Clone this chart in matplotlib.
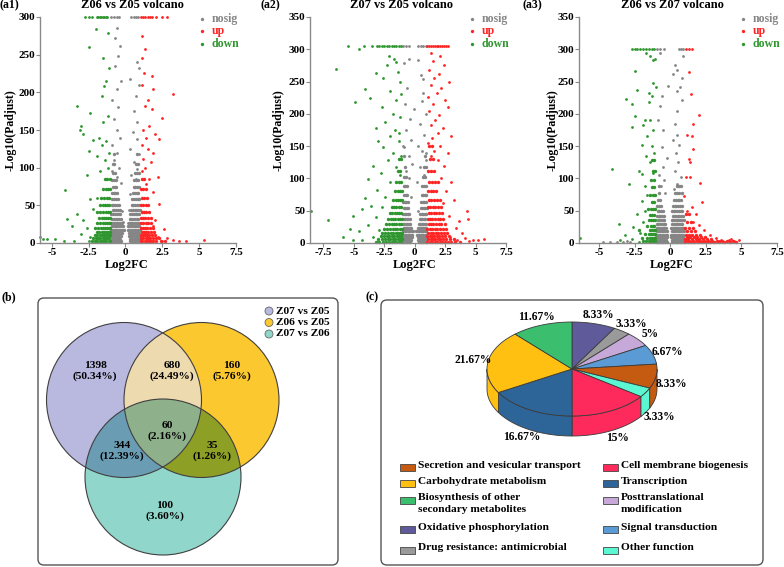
import numpy as np
import matplotlib
matplotlib.use('Agg')
import matplotlib.pyplot as plt
from matplotlib.colors import to_rgba
from matplotlib.patches import FancyBboxPatch, Circle, Polygon, Rectangle

plt.rcParams['font.family'] = ['Liberation Serif', 'DejaVu Serif']
plt.rcParams['font.weight'] = 'bold'

W, H = 784, 567

# ---------------- volcano data (log2FC, -log10 Padjust)
# scattered points as (x, y); dense clouds near the bottom as (y, [x, ...]) rows
a1_nosig = [(-0.95, 300), (-0.8, 300), (-0.6, 300), (-0.45, 300), (0.4, 300), (0.55, 300), (0.7, 300), (0.85, 300),
            (-0.6, 285), (-0.7, 272), (-0.4, 262), (-0.5, 248), (-0.7, 235), (0.8, 240), (0.9, 232), (-0.3, 215),
            (0.3, 218), (-0.6, 205), (0.9, 210), (0.7, 195), (-0.9, 190), (-0.5, 180), (0.6, 175), (-0.8, 165),
            (0.8, 160), (-0.6, 150), (0.5, 148), (-0.4, 140), (0.75, 138), (-0.9, 130), (0.3, 125), (-0.6, 120),
            (0.9, 118), (-0.75, 110), (0.55, 108), (-0.45, 100), (0.8, 98), (-0.9, 95), (0.4, 90), (-0.6, 88),
            (0.7, 85), (-0.3, 80), (0.3, 65), (-0.25, 42), (0.25, 44), (-0.15, 28), (0.15, 26)]
a1_nosig_core = [(2, [-0.97, -0.86, -0.74, -0.62, -0.5, -0.4, -0.31, 0.33, 0.44, 0.55, 0.66, 0.78, 0.9]),
                 (5, [-0.92, -0.8, -0.68, -0.57, -0.45, -0.36, 0.29, 0.4, 0.51, 0.62, 0.73, 0.84, 0.96]),
                 (9, [-0.98, -0.87, -0.75, -0.63, -0.52, -0.41, -0.28, 0.25, 0.36, 0.47, 0.58, 0.69, 0.8, 0.92]),
                 (13, [-0.93, -0.81, -0.7, -0.58, -0.47, -0.34, -0.22, 0.21, 0.32, 0.43, 0.54, 0.66, 0.77, 0.89]),
                 (17, [-0.96, -0.85, -0.73, -0.61, -0.5, -0.38, -0.26, -0.12, 0.14, 0.27, 0.38, 0.5, 0.62, 0.74,
                       0.86, 0.98]),
                 (22, [-0.9, -0.78, -0.66, -0.55, -0.43, -0.31, -0.19, 0.18, 0.3, 0.42, 0.55, 0.67, 0.8, 0.92]),
                 (27, [-0.97, -0.84, -0.72, -0.6, -0.48, -0.36, -0.24, 0.23, 0.35, 0.47, 0.59, 0.71, 0.83, 0.95]),
                 (32, [-0.91, -0.79, -0.67, -0.55, -0.43, -0.3, 0.28, 0.4, 0.52, 0.64, 0.76, 0.88]),
                 (38, [-0.95, -0.83, -0.71, -0.59, -0.47, -0.35, 0.33, 0.45, 0.57, 0.69, 0.81, 0.93]),
                 (44, [-0.88, -0.76, -0.64, -0.52, -0.4, 0.38, 0.5, 0.62, 0.74, 0.86, 0.97]),
                 (51, [-0.94, -0.82, -0.7, -0.58, -0.46, 0.42, 0.54, 0.66, 0.78, 0.9]),
                 (58, [-0.9, -0.77, -0.65, -0.53, 0.47, 0.59, 0.71, 0.83, 0.95]),
                 (66, [-0.93, -0.8, -0.68, -0.56, 0.5, 0.63, 0.76, 0.88]),
                 (74, [-0.86, -0.74, -0.62, 0.55, 0.68, 0.81, 0.93]),
                 (83, [-0.9, -0.78, -0.66, 0.6, 0.73, 0.86]),
                 (93, [-0.84, -0.72, 0.66, 0.8, 0.92]),
                 (105, [-0.88, -0.76, 0.7, 0.85]),
                 (118, [-0.8, 0.78])]
a1_up = [(1.05, 300), (1.2, 300), (1.35, 300), (1.5, 300), (1.65, 300), (1.8, 300), (2.1, 300), (2.5, 300), (2.8, 300),
         (1.1, 275), (1.3, 258), (1.1, 245), (1.25, 225), (1.8, 222), (1.1, 210), (1.9, 205), (3.2, 198), (1.5, 190),
         (1.3, 182), (1.8, 178), (2.5, 166), (1.6, 155), (1.2, 150), (2.0, 145), (1.4, 140), (2.3, 138), (1.1, 130),
         (1.5, 125), (1.9, 120), (1.2, 112), (1.7, 108), (1.3, 100), (1.1, 95), (2.2, 88), (1.6, 85), (1.4, 78),
         (1.9, 68), (2.3, 52), (2.0, 30), (2.6, 18), (2.2, 8), (2.8, 6), (3.2, 4), (3.6, 3), (4.1, 2), (5.3, 4),
         (2.5, 2), (1.9, 22)]
a1_up_core = [(2, [1.03, 1.15, 1.3, 1.45, 1.6, 1.75, 1.9, 2.1, 2.4, 2.7]),
              (6, [1.08, 1.22, 1.37, 1.52, 1.68, 1.85, 2.05, 2.3]),
              (10, [1.05, 1.18, 1.32, 1.47, 1.62, 1.8, 2.0]),
              (15, [1.1, 1.25, 1.4, 1.55, 1.72, 1.92]),
              (20, [1.03, 1.17, 1.32, 1.48, 1.65, 1.85]),
              (26, [1.08, 1.22, 1.38, 1.55, 1.75]),
              (33, [1.04, 1.18, 1.34, 1.5, 1.7]),
              (41, [1.1, 1.25, 1.42, 1.6]),
              (50, [1.05, 1.2, 1.36, 1.55]),
              (60, [1.1, 1.26, 1.45]),
              (72, [1.05, 1.2, 1.38]),
              (85, [1.1, 1.28])]
a1_down = [(-2.75, 300), (-2.45, 300), (-2.25, 300), (-1.95, 300), (-1.85, 300), (-1.75, 300), (-1.65, 300),
           (-1.55, 300), (-1.45, 300), (-1.35, 300), (-1.25, 300), (-2.0, 284), (-1.2, 279), (-2.5, 260),
           (-1.5, 245), (-1.1, 232), (-1.3, 215), (-1.45, 208), (-1.6, 195), (-3.3, 182), (-2.4, 172), (-1.2, 168),
           (-1.5, 160), (-3.0, 155), (-3.1, 150), (-2.9, 145), (-1.8, 140), (-2.2, 137), (-1.3, 135), (-1.6, 130),
           (-2.5, 122), (-1.1, 120), (-1.9, 115), (-1.4, 110), (-2.6, 90), (-1.2, 100), (-1.7, 95), (-4.1, 70),
           (-2.4, 58), (-1.9, 60), (-4.0, 32), (-3.3, 38), (-2.9, 30), (-3.6, 22), (-2.2, 45), (-2.6, 20),
           (-3.0, 12), (-2.5, 3), (-3.5, 3), (-4.2, 2), (-5.3, 5), (-5.6, 5), (-4.8, 5), (-5.8, 8), (-2.4, 8)]
a1_down_core = [(2, [-2.3, -2.1, -1.9, -1.75, -1.6, -1.45, -1.3, -1.15, -1.03]),
                (6, [-2.2, -2.0, -1.85, -1.7, -1.55, -1.4, -1.25, -1.1]),
                (10, [-2.05, -1.9, -1.75, -1.6, -1.45, -1.3, -1.18, -1.05]),
                (15, [-1.95, -1.78, -1.62, -1.48, -1.35, -1.2, -1.07]),
                (20, [-2.1, -1.85, -1.68, -1.52, -1.38, -1.25, -1.12, -1.02]),
                (26, [-1.9, -1.72, -1.55, -1.4, -1.27, -1.14, -1.04]),
                (33, [-1.8, -1.62, -1.46, -1.32, -1.18, -1.06]),
                (41, [-1.95, -1.7, -1.5, -1.35, -1.2, -1.08]),
                (50, [-1.75, -1.55, -1.38, -1.22, -1.1]),
                (60, [-1.65, -1.45, -1.28, -1.12]),
                (72, [-1.55, -1.35, -1.18, -1.05]),
                (85, [-1.42, -1.22, -1.08])]

a2_nosig = [(-0.95, 305), (-0.7, 305), (-0.5, 305), (0.3, 305), (0.5, 305), (0.7, 305), (0.9, 305),
            (-0.5, 285), (0.3, 283), (-0.9, 278), (0.5, 260), (0.7, 254), (-0.6, 240), (0.7, 232), (-0.05, 208),
            (0.6, 220), (-0.8, 215), (0.9, 200), (-0.4, 192), (0.4, 185), (-0.7, 175), (0.8, 168), (-0.3, 160),
            (0.3, 150), (-0.9, 148), (0.6, 142), (-0.5, 135), (0.9, 128), (-0.2, 122), (0.45, 118), (-0.75, 112),
            (0.75, 105), (-0.45, 100), (0.2, 95), (-0.95, 150), (0.95, 140), (-0.3, 72), (0.25, 50)]
a2_nosig_core = [(2, [-0.96, -0.84, -0.72, -0.6, -0.48, -0.37, 0.36, 0.48, 0.6, 0.72, 0.84, 0.96]),
                 (5, [-0.9, -0.78, -0.66, -0.54, -0.42, -0.31, 0.3, 0.42, 0.54, 0.66, 0.78, 0.9]),
                 (9, [-0.97, -0.85, -0.73, -0.61, -0.49, -0.37, -0.26, 0.27, 0.39, 0.51, 0.63, 0.75, 0.87, 0.98]),
                 (13, [-0.92, -0.8, -0.68, -0.56, -0.44, -0.32, -0.2, 0.22, 0.34, 0.46, 0.58, 0.7, 0.82, 0.94]),
                 (18, [-0.95, -0.83, -0.71, -0.59, -0.47, -0.35, -0.23, -0.1, 0.1, 0.24, 0.36, 0.48, 0.6, 0.72,
                       0.84, 0.96]),
                 (24, [-0.89, -0.77, -0.65, -0.53, -0.41, -0.29, 0.3, 0.42, 0.54, 0.66, 0.78, 0.9]),
                 (30, [-0.96, -0.84, -0.72, -0.6, -0.48, -0.36, 0.35, 0.47, 0.59, 0.71, 0.83, 0.95]),
                 (37, [-0.9, -0.78, -0.66, -0.54, -0.42, 0.4, 0.52, 0.64, 0.76, 0.88]),
                 (45, [-0.95, -0.83, -0.71, -0.59, -0.47, 0.45, 0.57, 0.69, 0.81, 0.93]),
                 (54, [-0.88, -0.76, -0.64, -0.52, 0.5, 0.62, 0.74, 0.86, 0.97]),
                 (64, [-0.93, -0.81, -0.69, -0.57, 0.55, 0.67, 0.79, 0.91]),
                 (75, [-0.86, -0.74, -0.62, 0.6, 0.72, 0.84, 0.95]),
                 (88, [-0.9, -0.78, -0.66, 0.64, 0.77, 0.9]),
                 (102, [-0.84, -0.72, 0.7, 0.84]),
                 (118, [-0.8, 0.76, 0.9]),
                 (135, [-0.86, 0.82])]
a2_up = [(1.05, 305), (1.2, 305), (1.35, 305), (1.5, 305), (1.65, 305), (1.8, 305), (1.95, 305), (2.1, 305),
         (2.25, 305), (2.4, 305), (2.55, 305), (2.7, 305), (1.3, 295), (2.1, 290), (1.5, 282), (2.4, 275),
         (1.2, 268), (2.0, 262), (1.6, 255), (2.8, 250), (1.3, 245), (2.2, 240), (1.8, 232), (1.1, 226),
         (2.5, 222), (1.5, 215), (2.7, 210), (1.2, 205), (2.0, 198), (1.7, 190), (1.3, 182), (2.3, 178),
         (1.9, 170), (3.0, 166), (1.4, 162), (1.1, 155), (2.1, 150), (1.6, 142), (2.75, 139), (1.3, 135),
         (1.9, 128), (2.4, 120), (2.2, 100), (3.0, 95), (2.6, 80), (3.2, 66), (2.3, 62), (4.3, 50),
         (2.8, 42), (4.4, 37), (3.6, 34), (3.4, 24), (3.9, 15), (2.9, 10), (4.1, 8), (4.8, 5), (5.7, 6),
         (5.2, 4), (4.5, 3), (3.5, 4), (3.3, 1)]
a2_up_core = [(2, [1.05, 1.25, 1.45, 1.65, 1.85, 2.05, 2.25, 2.5, 2.75, 3.0, 3.3, 3.7]),
              (6, [1.1, 1.3, 1.5, 1.7, 1.9, 2.1, 2.35, 2.6, 2.9, 3.2]),
              (11, [1.03, 1.22, 1.42, 1.62, 1.82, 2.02, 2.25, 2.5, 2.8]),
              (16, [1.12, 1.32, 1.52, 1.72, 1.92, 2.15, 2.4, 2.68]),
              (22, [1.05, 1.25, 1.45, 1.65, 1.85, 2.08, 2.32, 2.6]),
              (29, [1.14, 1.34, 1.54, 1.74, 1.96, 2.2, 2.45]),
              (37, [1.06, 1.26, 1.46, 1.66, 1.88, 2.1, 2.35]),
              (46, [1.15, 1.35, 1.55, 1.77, 2.0, 2.25]),
              (56, [1.08, 1.28, 1.48, 1.7, 1.92, 2.15]),
              (67, [1.18, 1.38, 1.6, 1.82, 2.05]),
              (80, [1.1, 1.3, 1.52, 1.75]),
              (95, [1.2, 1.42, 1.65, 1.9]),
              (112, [1.12, 1.35, 1.58]),
              (130, [1.25, 1.5]),
              (150, [1.15, 1.4])]
a2_down = [(-5.5, 305), (-4.2, 305), (-3.5, 305), (-3.1, 305), (-2.9, 305), (-2.7, 305), (-2.5, 305), (-2.3, 305),
           (-2.1, 305), (-1.9, 305), (-1.7, 305), (-1.5, 305), (-1.3, 305), (-1.1, 305), (-4.6, 300), (-6.5, 269),
           (-2.1, 290), (-1.5, 280), (-3.2, 263), (-2.6, 255), (-1.2, 250), (-4.1, 238), (-2.0, 235), (-3.7, 224),
           (-4.9, 219), (-1.5, 222), (-2.7, 210), (-1.8, 200), (-1.2, 195), (-2.4, 188), (-3.2, 178), (-1.6, 175),
           (-2.0, 165), (-3.0, 158), (-1.3, 158), (-2.6, 148), (-1.8, 140), (-1.1, 135), (-2.2, 128), (-3.4, 120),
           (-1.5, 118), (-2.8, 108), (-1.2, 105), (-3.8, 99), (-2.0, 95), (-3.1, 82), (-4.1, 69), (-2.4, 72),
           (-3.6, 58), (-2.7, 55), (-4.3, 52), (-5.05, 42), (-8.5, 49), (-7.1, 35), (-3.2, 40), (-3.8, 28),
           (-5.3, 22), (-4.6, 18), (-2.9, 20), (-3.4, 10), (-5.9, 9), (-5.1, 5), (-4.3, 4), (-3.1, 2),
           (-1.25, 170), (-1.1, 230), (-1.4, 265), (-2.3, 275), (-1.7, 285)]
a2_down_core = [(2, [-3.2, -2.9, -2.6, -2.35, -2.1, -1.9, -1.7, -1.5, -1.3, -1.12]),
                (6, [-3.0, -2.7, -2.45, -2.2, -2.0, -1.8, -1.6, -1.4, -1.2, -1.05]),
                (11, [-2.8, -2.55, -2.3, -2.08, -1.88, -1.68, -1.48, -1.28, -1.1]),
                (16, [-2.65, -2.4, -2.18, -1.96, -1.76, -1.56, -1.36, -1.18, -1.03]),
                (22, [-2.5, -2.25, -2.02, -1.82, -1.62, -1.42, -1.24, -1.08]),
                (29, [-2.35, -2.1, -1.9, -1.7, -1.5, -1.3, -1.14]),
                (37, [-2.2, -1.98, -1.78, -1.58, -1.38, -1.2, -1.05]),
                (46, [-2.05, -1.85, -1.65, -1.45, -1.27, -1.1]),
                (56, [-1.9, -1.7, -1.5, -1.32, -1.15]),
                (67, [-1.75, -1.55, -1.36, -1.18, -1.03]),
                (80, [-1.6, -1.4, -1.22, -1.07]),
                (95, [-1.5, -1.3, -1.12]),
                (112, [-1.4, -1.18]),
                (130, [-1.3, -1.1])]

a3_nosig = [(-0.9, 300), (-0.7, 300), (-0.4, 300), (0.6, 300), (0.75, 300), (0.9, 300),
            (-0.7, 295), (0.9, 290), (0.35, 275), (0.5, 268), (0.2, 262), (0.8, 255), (-0.15, 243), (0.7, 242),
            (0.5, 236), (-0.6, 228), (0.8, 222), (-0.7, 212), (0.45, 205), (-0.85, 190), (0.35, 185), (-0.5, 175),
            (0.5, 168), (0.2, 160), (0.65, 152), (-0.6, 148), (0.4, 140), (-0.25, 132), (0.55, 125), (-0.5, 118),
            (0.35, 112), (-0.8, 106), (0.75, 102), (-0.4, 98), (0.5, 92), (-0.65, 88), (0.25, 83), (-0.35, 78),
            (-4.7, 1), (-4.2, 1), (-3.7, 1), (-3.3, 2), (-2.8, 1), (-3.0, 3), (1.5, 1), (2.3, 1), (3.1, 1),
            (3.8, 1), (4.5, 2), (1.2, 2)]
a3_nosig_core = [(2, [-0.95, -0.83, -0.71, -0.59, -0.47, -0.35, -0.23, 0.1, 0.22, 0.34, 0.46, 0.58, 0.7, 0.82, 0.94]),
                 (5, [-0.9, -0.78, -0.66, -0.54, -0.42, -0.3, 0.15, 0.27, 0.39, 0.51, 0.63, 0.75, 0.87]),
                 (9, [-0.97, -0.85, -0.73, -0.61, -0.49, -0.37, -0.25, 0.08, 0.2, 0.32, 0.44, 0.56, 0.68, 0.8,
                      0.92]),
                 (13, [-0.92, -0.8, -0.68, -0.56, -0.44, -0.32, -0.2, 0.05, 0.17, 0.29, 0.41, 0.53, 0.65, 0.77,
                       0.89]),
                 (18, [-0.95, -0.83, -0.71, -0.59, -0.47, -0.35, -0.23, 0.12, 0.24, 0.36, 0.48, 0.6, 0.72, 0.84,
                       0.96]),
                 (23, [-0.89, -0.77, -0.65, -0.53, -0.41, -0.29, 0.08, 0.2, 0.32, 0.44, 0.56, 0.68, 0.8, 0.92]),
                 (29, [-0.94, -0.82, -0.7, -0.58, -0.46, -0.34, 0.14, 0.26, 0.38, 0.5, 0.62, 0.74, 0.86]),
                 (35, [-0.88, -0.76, -0.64, -0.52, -0.4, 0.1, 0.22, 0.34, 0.46, 0.58, 0.7, 0.82, 0.94]),
                 (42, [-0.93, -0.81, -0.69, -0.57, -0.45, 0.17, 0.29, 0.41, 0.53, 0.65, 0.77, 0.89]),
                 (50, [-0.87, -0.75, -0.63, -0.51, 0.13, 0.25, 0.37, 0.49, 0.61, 0.73, 0.85]),
                 (58, [-0.9, -0.78, -0.66, 0.2, 0.32, 0.44, 0.56, 0.68, 0.8]),
                 (67, [-0.84, -0.72, 0.28, 0.4, 0.52, 0.64, 0.76]),
                 (77, [-0.8, 0.35, 0.5, 0.65, 0.8]),
                 (88, [-0.75, 0.45, 0.62, 0.78])]
a3_up = [(1.1, 300), (1.3, 300), (1.5, 300), (1.3, 265), (1.45, 230), (2.05, 198), (1.6, 185), (1.2, 168),
         (1.5, 165), (1.3, 130), (1.4, 125), (1.6, 145), (1.1, 102), (1.4, 102), (2.1, 93), (1.0, 73),
         (2.2, 64), (1.5, 55), (1.2, 50), (1.8, 45), (1.6, 32), (2.0, 28), (2.4, 20), (2.8, 12), (3.2, 7),
         (3.6, 5), (4.1, 4), (4.5, 3), (4.85, 5), (3.4, 3), (4.3, 6)]
a3_up_core = [(1, [1.05, 1.25, 1.45, 1.7, 1.95, 2.2, 2.5, 2.8, 3.1, 3.45, 3.8, 4.2, 4.6]),
              (3, [1.1, 1.35, 1.6, 1.85, 2.1, 2.35, 2.65, 2.95, 3.3, 3.65, 4.0, 4.4]),
              (6, [1.05, 1.28, 1.52, 1.78, 2.02, 2.3, 2.6, 2.9]),
              (9, [1.15, 1.4, 1.65, 1.9, 2.15, 2.45]),
              (13, [1.08, 1.3, 1.55, 1.8, 2.1]),
              (18, [1.2, 1.45, 1.72]),
              (24, [1.05, 1.35, 1.6]),
              (32, [1.18, 1.45]),
              (45, [1.1, 1.3])]
a3_down = [(-2.7, 300), (-2.5, 300), (-2.3, 300), (-2.1, 300), (-1.9, 300), (-1.7, 300), (-1.5, 300), (-1.3, 300),
           (-1.1, 300), (-1.7, 295), (-1.4, 290), (-1.2, 284), (-1.05, 285), (-2.5, 267), (-1.2, 248),
           (-1.0, 242), (-2.3, 237), (-1.5, 232), (-1.3, 228), (-3.1, 223), (-2.7, 215), (-1.5, 218),
           (-2.5, 197), (-1.8, 190), (-1.4, 190), (-1.9, 182), (-1.2, 175), (-2.7, 180), (-1.6, 165),
           (-2.0, 152), (-1.3, 150), (-1.1, 140), (-1.7, 135), (-1.4, 125), (-2.2, 112), (-2.0, 107),
           (-1.2, 108), (-4.05, 114), (-2.9, 92), (-1.8, 88), (-1.6, 75), (-2.0, 65), (-1.8, 50), (-2.3, 45),
           (-1.9, 32), (-3.6, 29), (-2.6, 25), (-2.1, 15), (-3.2, 12), (-2.7, 6), (-3.5, 4), (-6.3, 8),
           (-2.2, 2)]
a3_down_core = [(3, [-1.9, -1.7, -1.5, -1.35, -1.2, -1.06]),
                (8, [-2.0, -1.6, -1.42, -1.28, -1.14, -1.03]),
                (14, [-1.75, -1.52, -1.36, -1.22, -1.08]),
                (20, [-2.2, -1.45, -1.3, -1.16, -1.04]),
                (27, [-1.6, -1.38, -1.24, -1.1]),
                (35, [-1.5, -1.32, -1.18, -1.05]),
                (44, [-1.42, -1.26, -1.12]),
                (53, [-1.55, -1.35, -1.2, -1.06]),
                (63, [-1.3, -1.15]),
                (74, [-1.45, -1.22, -1.08]),
                (86, [-1.25, -1.1]),
                (98, [-1.35, -1.15]),
                (112, [-1.2, -1.05]),
                (128, [-1.3, -1.12])]

# ---------------- venn counts
venn_labels = ['1398\n(50.34%)', '680\n(24.49%)', '160\n(5.76%)', '344\n(12.39%)',
               '60\n(2.16%)', '35\n(1.26%)', '100\n(3.60%)']
venn_sets = ['Z07 vs Z05', 'Z06 vs Z05', 'Z07 vs Z06']

# ---------------- pie: clockwise from 12 o'clock
pie_names = ['Oxidative phosphorylation', 'Drug resistance: antimicrobial', 'Posttranslational\nmodification',
             'Signal transduction', 'Secretion and vesicular transport', 'Other function',
             'Cell membrane biogenesis', 'Transcription', 'Carbohydrate metabolism',
             'Biosynthesis of other\nsecondary metabolites']
pie_vals = [8.33, 3.33, 5, 6.67, 8.33, 3.33, 15, 16.67, 21.67, 11.67]
pie_text = ['8.33%', '3.33%', '5%', '6.67%', '8.33%', '3.33%', '15%', '16.67%', '21.67%', '11.67%']
pie_cols = ['#5f5b9b', '#9a9a9a', '#c6a9d9', '#5b9bd5', '#c55a11', '#5bf7d3',
            '#ff2a5c', '#2e6598', '#ffc012', '#3bbf6f']
legend_order = [4, 6, 8, 7, 9, 2, 0, 3, 1, 5]


def rows_to_pts(rows):
    return np.array([(x, y) for y, xs in rows for x in xs])


fig = plt.figure(figsize=(W / 100, H / 100), dpi=100)
bg = fig.add_axes([0, 0, 1, 1])
bg.set_xlim(0, W)
bg.set_ylim(H, 0)
bg.axis('off')

C_GRAY, C_RED, C_GREEN = '#858585', '#ff2424', '#2f962f'


def volcano(box, xlim, ymax, xticks, series, title, tag, lab_x, ylab_dx):
    l, t, r, b = box
    ax = fig.add_axes([l / W, 1 - b / H, (r - l) / W, (b - t) / H])
    for (pts, core), c, name in zip(series, [C_GRAY, C_RED, C_GREEN], ['nosig', 'up', 'down']):
        p = np.array(pts)
        q = rows_to_pts(core)
        ax.scatter(q[:, 0], q[:, 1], s=6, c=c, linewidths=0, clip_on=False)
        ax.scatter(p[:, 0], p[:, 1], s=4, c=c, linewidths=0, label=name, clip_on=False)
    ax.set_xlim(*xlim)
    ax.set_ylim(0, ymax)
    ax.set_xticks(xticks)
    ax.set_xticklabels([('%g' % v) for v in xticks])
    ax.set_yticks(np.arange(0, ymax + 1, 50))
    for s in ['top', 'right']:
        ax.spines[s].set_visible(False)
    for s in ['left', 'bottom']:
        ax.spines[s].set_color('#8a8a8a')
        ax.spines[s].set_linewidth(1.0)
    ax.tick_params(length=3, width=0.8, color='#8a8a8a', labelsize=8, pad=0.5)
    ax.set_facecolor('none')
    ax.set_xlabel('Log2FC', fontsize=9, fontweight='bold')
    ax.set_ylabel('-Log10(Padjust)', fontsize=8.5, fontweight='bold')
    ax.xaxis.set_label_coords(lab_x, -0.072)
    ax.yaxis.set_label_coords(ylab_dx, 0.5)
    ax.legend(loc='upper right', bbox_to_anchor=(1.04, 1.04), frameon=False, fontsize=8.5,
              handlelength=0.4, handletextpad=0.6, labelspacing=0.05, borderaxespad=0,
              markerscale=1.2, labelcolor=[C_GRAY, C_RED, C_GREEN])
    bg.text((l + r) / 2 - 6, 5, title, fontsize=9, ha='center', va='center')
    bg.text(tag[1], 5, tag[0], fontsize=8.5, ha='left', va='center')
    return ax


volcano((40, 17, 236, 243), (-5.8, 7.5), 300, [-5, -2.5, 0, 2.5, 5, 7.5],
        [(a1_nosig, a1_nosig_core), (a1_up, a1_up_core), (a1_down, a1_down_core)],
        'Z06 vs Z05 volcano', ('(a1)', 0), 0.44, -0.12)
volcano((310, 17, 506, 243), (-8.6, 7.5), 350, [-7.5, -5, -2.5, 0, 2.5, 5, 7.5],
        [(a2_nosig, a2_nosig_core), (a2_up, a2_up_core), (a2_down, a2_down_core)],
        'Z07 vs Z05 volcano', ('(a2)', 261), 0.535, -0.13)
volcano((579, 17, 777, 243), (-6.4, 7.5), 350, [-5, -2.5, 0, 2.5, 5, 7.5],
        [(a3_nosig, a3_nosig_core), (a3_up, a3_up_core), (a3_down, a3_down_core)],
        'Z06 vs Z07 volcano', ('(a3)', 523), 0.47, -0.105)

# ---------------- (b) venn
bg.text(2, 297, '(b)', fontsize=8.5, ha='left', va='center')
bg.add_patch(FancyBboxPatch((38, 298), 300, 267, boxstyle='round,pad=0,rounding_size=6',
                            fc='none', ec='#555555', lw=1.0))
circ = [(124, 400, 77.5), (201.5, 400, 77.5), (163, 477, 78)]
region_cols = {(1, 0, 0): '#b9b9e0', (0, 1, 0): '#fcc82f', (0, 0, 1): '#91d6cb',
               (1, 1, 0): '#eedaaf', (1, 0, 1): '#6a9cb3', (0, 1, 1): '#8d9f25', (1, 1, 1): '#8eb08a'}
gx = np.arange(40, 290, 0.5)
gy = np.arange(315, 560, 0.5)
X, Y = np.meshgrid(gx, gy)
masks = [((X - cx) ** 2 + (Y - cy) ** 2 <= rr ** 2) for cx, cy, rr in circ]
img = np.zeros(X.shape + (4,))
for key, col in region_cols.items():
    m = np.ones(X.shape, bool)
    for k, mk in zip(key, masks):
        m &= mk if k else ~mk
    img[m] = to_rgba(col)
bg.imshow(img, extent=(40, 290, 560, 315), origin='upper', aspect='auto', interpolation='nearest')
for cx, cy, rr in circ:
    bg.add_patch(Circle((cx, cy), rr, fill=False, ec='#404040', lw=0.8))
venn_pos = [(95, 371), (172, 371), (232, 371), (122, 451), (167, 431), (212, 451), (165, 511)]
for (x, y), s in zip(venn_pos, venn_labels):
    bg.text(x, y, s, fontsize=8.2, ha='center', va='center', linespacing=1.3)
set_cols = ['#b9b9e0', '#fcc82f', '#91d6cb']
for i, (name, c) in enumerate(zip(venn_sets, set_cols)):
    y = 311 + i * 11.5
    bg.add_patch(Circle((269, y), 4, fc=c, ec='#666666', lw=0.6))
    bg.text(276, y, name, fontsize=8.2, ha='left', va='center')
bg.set_xlim(0, W)
bg.set_ylim(H, 0)

# ---------------- (c) 3D pie
bg.text(366, 297, '(c)', fontsize=8.5, ha='left', va='center')
bg.add_patch(FancyBboxPatch((381, 300), 382, 265, boxstyle='round,pad=0,rounding_size=6',
                            fc='none', ec='#555555', lw=1.0))
pcx, pcy, pa, pb, depth = 572, 369, 85, 47, 20
edges = np.concatenate([[0], np.cumsum(pie_vals)]) / sum(pie_vals) * 2 * np.pi


def rim(t0, t1, n=60):
    t = np.linspace(t0, t1, n)
    return pcx + pa * np.sin(t), pcy - pb * np.cos(t)


# side walls, only the front half shows
for i, c in enumerate(pie_cols):
    t0, t1 = max(edges[i], np.pi / 2), min(edges[i + 1], 3 * np.pi / 2)
    if t1 <= t0:
        continue
    x, y = rim(t0, t1)
    poly = np.column_stack([np.concatenate([x, x[::-1]]), np.concatenate([y, y[::-1] + depth])])
    bg.add_patch(Polygon(poly, closed=True, fc=c, ec='#3a3a3a', lw=0.6))
# top faces
for i, c in enumerate(pie_cols):
    x, y = rim(edges[i], edges[i + 1])
    poly = np.column_stack([np.concatenate([[pcx], x]), np.concatenate([[pcy], y])])
    bg.add_patch(Polygon(poly, closed=True, fc=c, ec='#3a3a3a', lw=0.6))
for i, s in enumerate(pie_text):
    tm = (edges[i] + edges[i + 1]) / 2
    x = pcx + pa * 1.18 * np.sin(tm)
    y = pcy - pb * 1.18 * np.cos(tm)
    if np.cos(tm) < 0:
        y += depth * min(1, -2 * np.cos(tm))
    bg.text(x, y, s, fontsize=8.3, ha='center', va='center')

# pie legend, two columns
leg_x = [400, 603]
leg_y = [467, 483.5, 500, 529.5, 550]
for k, idx in enumerate(legend_order):
    x, y = leg_x[k % 2], leg_y[k // 2]
    bg.add_patch(Rectangle((x, y - 3.5), 15, 7, fc=pie_cols[idx], ec='#444444', lw=0.6))
    bg.text(x + 18, y - 6.5, pie_names[idx], fontsize=8.2, ha='left', va='top', linespacing=1.3)

fig.savefig('out.png', dpi=100)
